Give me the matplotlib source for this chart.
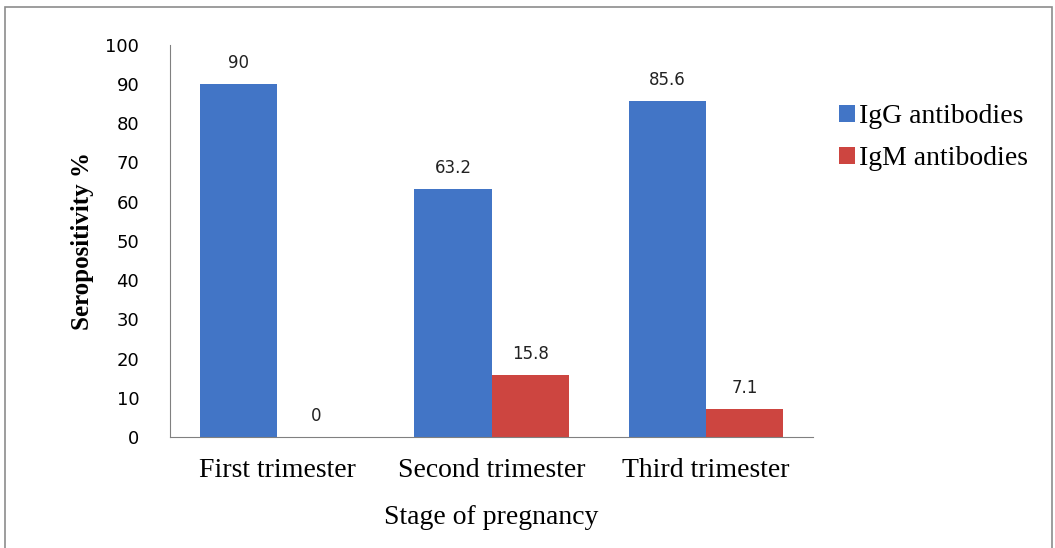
import numpy as np
import matplotlib
matplotlib.use('Agg')
import matplotlib.pyplot as plt
from matplotlib.patches import Rectangle

# data
stages = ['First trimester', 'Second trimester', 'Third trimester']
igg = [90, 63.2, 85.6]
igm = [0, 15.8, 7.1]
series_names = ['IgG antibodies', 'IgM antibodies']
yticks = [0, 10, 20, 30, 40, 50, 60, 70, 80, 90, 100]

blue = '#4275c6'
red = '#cd4540'
serif = 'Liberation Serif'

fig = plt.figure(figsize=(10.55, 5.48), dpi=100)
ax = fig.add_axes([0.161, 0.2026, 0.61, 0.716])

x = np.arange(len(stages))
w = 0.36
b1 = ax.bar(x - w / 2, igg, w, color=blue, label=series_names[0])
b2 = ax.bar(x + w / 2, igm, w, color=red, label=series_names[1])

for bars, vals in ((b1, igg), (b2, igm)):
    for rect, v in zip(bars, vals):
        ax.text(rect.get_x() + rect.get_width() / 2, v + 3.0, '{:g}'.format(v),
                ha='center', va='bottom', fontsize=12, color='#222222')

ax.set_xlim(-0.5, 2.5)
ax.set_ylim(0, 100)
ax.set_yticks(yticks)
ax.set_xticks(x)
ax.set_xticklabels(stages, family=serif, fontsize=20)
ax.tick_params(axis='y', length=0, pad=22, labelsize=13)
ax.tick_params(axis='x', length=0, pad=15)

for side in ('top', 'right'):
    ax.spines[side].set_visible(False)
ax.spines['left'].set_color('#808080')
ax.spines['bottom'].set_color('#808080')

ax.set_xlabel('Stage of pregnancy', family=serif, fontsize=20, labelpad=16)
ax.set_ylabel('Seropositivity %', family=serif, fontsize=18, fontweight='bold',
              labelpad=8)

leg = fig.legend(handles=[b1, b2], loc='upper left', bbox_to_anchor=(0.772, 0.855),
                 frameon=False, prop={'family': serif, 'size': 20},
                 handlelength=0.55, handleheight=0.55, handletextpad=0.15,
                 labelspacing=0.6)

# outer frame around the picture
fig.add_artist(Rectangle((5 / 1055, -0.02), 1047 / 1055, 1.02 - 7 / 548,
                         transform=fig.transFigure, fill=False,
                         edgecolor='#8c8c8c', linewidth=1.2))

fig.savefig('out.png', dpi=100)
